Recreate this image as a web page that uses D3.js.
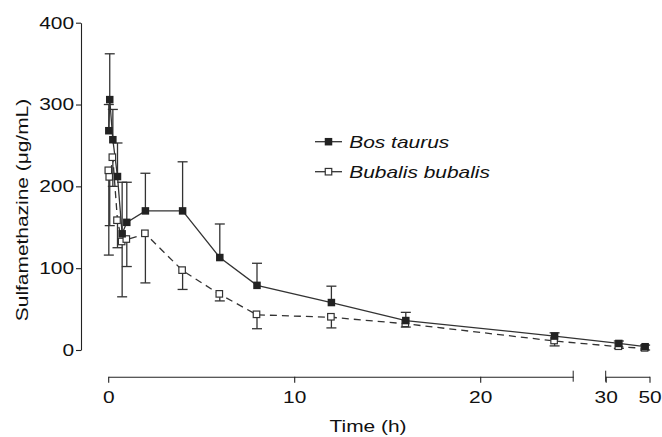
<!DOCTYPE html>
<html>
<head>
<meta charset="utf-8">
<script src="https://cdn.jsdelivr.net/npm/d3@7"></script>
<style>
  body { margin: 0; background: #fff; }
  text { font-family: "Liberation Sans", Arial, sans-serif; fill: #111; }
</style>
</head>
<body>
<div id="chart-area"></div>
<script>
// sampling times (h)
var times = [0.033, 0.083, 0.25, 0.5, 0.75, 1, 2, 4, 6, 8, 12, 16, 24, 36, 48];
// Bos taurus: mean and upper error bar end
var bosMean  = [268, 306, 257, 212, 142, 156, 170, 170, 113, 79, 58, 36, 17, 8, 4];
var bosUpper = [300, 362, 294, 253, 205, 205, 216, 230, 154, 106, 78, 46, 21, 11, 6];
// Bubalis bubalis: mean and lower error bar end
var bubMean  = [219, 211, 235, 158, 132, 135, 142, 97, 68, 43, 40, 32, 11, 4, 2];
var bubLower = [116, 152, 200, 125, 65, 102, 82, 74, 60, 26, 27, 28, 5, 2, 0];

var yTicks = [0, 100, 200, 300, 400];
var xTicks1 = [0, 10, 20];
var xTicks2 = [30, 50];
var seriesNames = ["Bos taurus", "Bubalis bubalis"];

var W = 662, H = 437;
var sx = 1.23; // horizontal text stretch of the original
var axisY = 376.7;

var svg = d3.select("#chart-area")
  .append("svg")
    .attr("width", W)
    .attr("height", H);

var y = d3.scaleLinear().domain([0, 400]).range([350, 22.7]);
var x1 = d3.scaleLinear().domain([0, 25]).range([108.2, 573.2]);
var x2 = d3.scaleLinear().domain([30, 50]).range([605.7, 649.5]);
function x(t) { return t <= 25 ? x1(t) : x2(t); }

var bos = times.map(function(t, i) { return {t: t, v: bosMean[i], e: bosUpper[i]}; });
var bub = times.map(function(t, i) { return {t: t, v: bubMean[i], e: bubLower[i]}; });

// y axis
var leftAxis = d3.axisLeft(y).tickValues(yTicks).tickSize(5).tickPadding(0.7).tickSizeOuter(0);
var gy = svg.append("g")
  .attr("class", "left axis")
  .attr("transform", "translate(81, 0)")
  .call(leftAxis);
gy.selectAll("text").attr("font-size", "17px").attr("transform", "scale(" + sx + ",1)");

// broken x axis
function styleX(g) {
  g.selectAll("text")
    .attr("font-size", "17px")
    .attr("transform", "scale(" + sx + ",1)");
}
var gx1 = svg.append("g")
  .attr("class", "bottom axis")
  .attr("transform", "translate(0," + axisY + ")")
  .call(d3.axisBottom(x1).tickValues(xTicks1).tickSize(6).tickPadding(8).tickSizeOuter(0).tickFormat(d3.format("d")));
styleX(gx1);
var gx2 = svg.append("g")
  .attr("class", "bottom axis")
  .attr("transform", "translate(0," + axisY + ")")
  .call(d3.axisBottom(x2).tickValues(xTicks2).tickSize(6).tickPadding(8).tickSizeOuter(0).tickFormat(d3.format("d")));
styleX(gx2);
// break ends
svg.selectAll(".brk")
  .data([x1(25), x2(30)])
  .enter().append("line")
    .attr("x1", function(d) { return d; })
    .attr("x2", function(d) { return d; })
    .attr("y1", axisY - 6)
    .attr("y2", axisY + 5)
    .attr("stroke", "#222");

svg.selectAll(".axis path, .axis line").attr("stroke", "#222").attr("stroke-width", 1.1);

// axis labels
svg.append("text")
  .attr("transform", "translate(368,432) scale(" + sx + ",1)")
  .attr("text-anchor", "middle")
  .attr("font-size", "17px")
  .text("Time (h)");

svg.append("text")
  .attr("transform", "translate(28,210) rotate(-90) scale(" + sx + ",1)")
  .attr("text-anchor", "middle")
  .attr("font-size", "17px")
  .text("Sulfamethazine (μg/mL)");

var lineGen = d3.line()
  .x(function(d) { return x(d.t); })
  .y(function(d) { return y(d.v); });

var cap = 5;
// error bars: Bubalis down, Bos up
var eb = svg.append("g").attr("stroke", "#333").attr("stroke-width", 1.3).attr("fill", "none");
[bub, bos].forEach(function(ser) {
  ser.forEach(function(d) {
    eb.append("line")
      .attr("x1", x(d.t)).attr("x2", x(d.t))
      .attr("y1", y(d.v)).attr("y2", y(d.e));
    eb.append("line")
      .attr("x1", x(d.t) - cap).attr("x2", x(d.t) + cap)
      .attr("y1", y(d.e)).attr("y2", y(d.e));
  });
});

// lines
svg.append("path")
  .datum(bub)
  .attr("d", lineGen)
  .attr("fill", "none")
  .attr("stroke", "#333")
  .attr("stroke-width", 1.3)
  .attr("stroke-dasharray", "7,5");

svg.append("path")
  .datum(bos)
  .attr("d", lineGen)
  .attr("fill", "none")
  .attr("stroke", "#333")
  .attr("stroke-width", 1.3);

// markers
var ms = 7.5;
svg.selectAll(".bub")
  .data(bub)
  .enter().append("rect")
    .attr("class", "bub")
    .attr("x", function(d) { return x(d.t) - ms / 2; })
    .attr("y", function(d) { return y(d.v) - ms / 2; })
    .attr("width", ms - 1).attr("height", ms - 1)
    .attr("fill", "#fff")
    .attr("stroke", "#333")
    .attr("stroke-width", 1.2);

svg.selectAll(".bos")
  .data(bos)
  .enter().append("rect")
    .attr("class", "bos")
    .attr("x", function(d) { return x(d.t) - ms / 2; })
    .attr("y", function(d) { return y(d.v) - ms / 2; })
    .attr("width", ms).attr("height", ms)
    .attr("fill", "#222");

// legend
var legend = svg.append("g").attr("transform", "translate(315,141.7)");
seriesNames.forEach(function(name, i) {
  var g = legend.append("g").attr("transform", "translate(0," + (i * 30) + ")");
  g.append("line")
    .attr("x1", 0).attr("x2", 27)
    .attr("stroke", "#333").attr("stroke-width", 1.3);
  if (i === 0) {
    g.append("rect").attr("x", 13.5 - ms / 2).attr("y", -ms / 2)
      .attr("width", ms).attr("height", ms).attr("fill", "#222");
  } else {
    g.append("rect").attr("x", 13.5 - ms / 2 + 0.5).attr("y", -ms / 2 + 0.5)
      .attr("width", ms - 1).attr("height", ms - 1)
      .attr("fill", "#fff").attr("stroke", "#333").attr("stroke-width", 1.2);
  }
  g.append("text")
    .attr("transform", "translate(34.3,6.6) scale(" + sx + ",1)")
    .attr("font-size", "17px")
    .attr("font-style", "italic")
    .text(name);
});
</script>
</body>
</html>
